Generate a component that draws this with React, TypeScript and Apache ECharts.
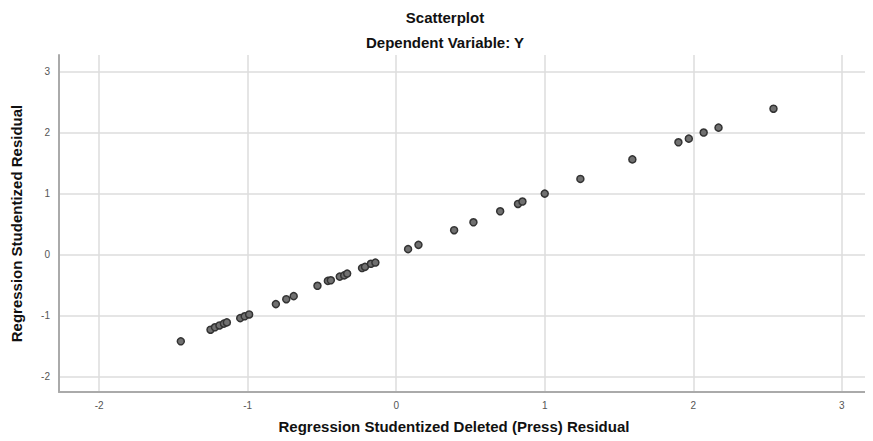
import React, { useEffect, useRef } from "react";
import * as echarts from "echarts";

const titleText = "Scatterplot";
const subtitleText = "Dependent Variable: Y";
const xAxisName = "Regression Studentized Deleted (Press) Residual";
const yAxisName = "Regression Studentized Residual";
const tickValues: number[] = [-2, -1, 0, 1, 2, 3];

const deletedResidual: number[] = [
  -1.45, -1.25, -1.22, -1.19, -1.16, -1.14, -1.05, -1.02, -0.99, -0.81, -0.74, -0.69,
  -0.53, -0.46, -0.44, -0.38, -0.35, -0.33, -0.23, -0.21, -0.17, -0.14,
  0.08, 0.15, 0.39, 0.52, 0.7, 0.82, 0.85, 1.0, 1.24, 1.59, 1.9, 1.97, 2.07, 2.17, 2.54,
];
const studentizedResidual: number[] = [
  -1.42, -1.23, -1.19, -1.16, -1.13, -1.11, -1.04, -1.01, -0.98, -0.81, -0.73, -0.68,
  -0.51, -0.43, -0.42, -0.36, -0.34, -0.31, -0.22, -0.2, -0.15, -0.13,
  0.09, 0.16, 0.4, 0.53, 0.71, 0.83, 0.87, 1.0, 1.24, 1.56, 1.84, 1.9, 2.0, 2.08, 2.39,
];

const FONT = "Liberation Sans, Arial, sans-serif";

export default function App() {
  const ref = useRef<HTMLDivElement>(null);
  useEffect(() => {
    if (!ref.current) return;
    const chart = echarts.init(ref.current, undefined, { renderer: "svg" });
    const data = deletedResidual.map((x, i) => [x, studentizedResidual[i]]);
    chart.setOption({
      animation: false,
      backgroundColor: "#ffffff",
      textStyle: { fontFamily: FONT },
      graphic: [
        {
          type: "text",
          x: 437,
          y: 9,
          style: {
            text: titleText,
            fill: "#111",
            font: "bold 15px " + FONT,
            align: "center",
            verticalAlign: "middle",
          },
        },
        {
          type: "text",
          x: 437,
          y: 34,
          style: {
            text: subtitleText,
            fill: "#111",
            font: "bold 15px " + FONT,
            align: "center",
            verticalAlign: "middle",
          },
        },
      ],
      grid: {
        left: 51,
        right: 0,
        top: 47,
        bottom: 49,
        containLabel: false,
        outerBoundsMode: "none",
      },
      xAxis: {
        type: "value",
        min: -2.27,
        max: 3.21,
        name: xAxisName,
        nameLocation: "middle",
        nameGap: 27,
        nameTextStyle: { fontSize: 15, fontWeight: "bold", color: "#111", padding: [0, 24, 0, 0] },
        axisLine: { show: true, onZero: false, lineStyle: { color: "#aaa", width: 2 } },
        axisTick: { show: false, customValues: tickValues },
        axisLabel: {
          color: "#555",
          fontSize: 10,
          margin: 8,
          customValues: tickValues,
        },
        splitLine: { show: true, lineStyle: { color: "#dcdcdc", width: 1.5 } },
      },
      yAxis: {
        type: "value",
        min: -2.25,
        max: 3.27,
        name: yAxisName,
        nameLocation: "middle",
        nameGap: 35,
        nameTextStyle: { fontSize: 15, fontWeight: "bold", color: "#111" },
        axisLine: { show: true, onZero: false, lineStyle: { color: "#aaa", width: 2 } },
        axisTick: { show: false, customValues: tickValues },
        axisLabel: {
          color: "#555",
          fontSize: 10,
          margin: 9,
          customValues: tickValues,
        },
        splitLine: { show: true, lineStyle: { color: "#dcdcdc", width: 1.5 } },
      },
      series: [
        {
          type: "scatter",
          data,
          symbol: "circle",
          symbolSize: 7,
          itemStyle: { color: "#707070", borderColor: "#333", borderWidth: 1.5, opacity: 1 },
        },
      ],
    });
    return () => chart.dispose();
  }, []);
  return <div ref={ref} style={{ width: 865, height: 433 }} />;
}
